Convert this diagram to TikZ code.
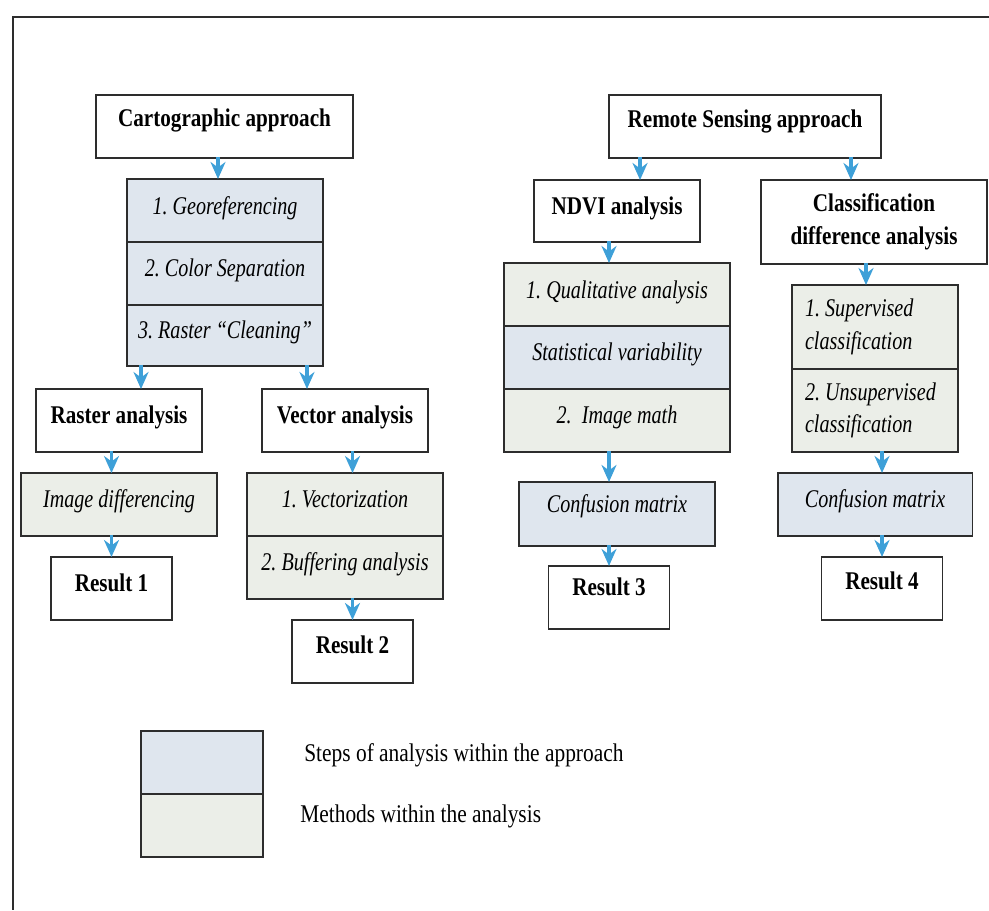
\documentclass[tikz,border=0pt]{standalone}
\usepackage{fontspec}
\setmainfont{Liberation Serif}[FakeStretch=0.84, BoldFeatures={FakeStretch=0.83}, ItalicFeatures={FakeStretch=0.79}]
\usepackage{xcolor}
\usetikzlibrary{arrows.meta,positioning}
\definecolor{stepblue}{RGB}{223,230,238}
\definecolor{methgreen}{RGB}{235,238,232}
\definecolor{edgegray}{RGB}{45,45,45}
\definecolor{arrowblue}{RGB}{62,160,216}
\frenchspacing

\begin{document}
\begin{tikzpicture}[
x=0.02cm, y=-0.02cm,
node distance=0.42cm and 0.42cm,
every node/.style={font=\fontsize{14.5}{18.5}\selectfont},
box/.style={draw=edgegray, line width=1.1pt, align=center, inner sep=0pt, outer sep=0pt, minimum width=3.32cm, minimum height=1.26cm, text height=10pt, text depth=6.5pt, font=\fontsize{14.5}{18.5}\selectfont\bfseries},
twoline/.style={text height={}, text depth={}},
stepcell/.style={box, fill=stepblue, minimum width=3.92cm, font=\fontsize{14.5}{18.5}\selectfont\itshape},
methcell/.style={stepcell, fill=methgreen},
arr/.style={-{Stealth[length=3.4mm, width=3mm, inset=1.1mm]}, line width=2pt, draw=arrowblue, shorten <=-0.5pt}
]
\useasboundingbox (0,0) rectangle (989,910);
% frame
\draw[edgegray, line width=1.3pt] (989,17) -- (13,17) -- (13,910);

% cartographic side
\node[box, minimum width=5.14cm, text depth=10.5pt] (carto) at (224.5,126.5) {Cartographic approach};
\node[stepcell, below=of carto, xshift=0.01cm, text depth=5pt] (georef) {1. Georeferencing};
\node[stepcell, below=0pt of georef] (colsep) {2. Color Separation};
\node[stepcell, below=0pt of colsep, minimum height=1.22cm] (clean) {3. Raster “Cleaning”};
\node[box] (raster) at (119,420.5) {Raster analysis};
\node[box] (vector) at (345,420.5) {Vector analysis};
\node[methcell, below=of raster, text depth=7pt] (imgdiff) {Image differencing};
\node[box, below=of imgdiff, xshift=-0.15cm, minimum width=2.42cm, text depth=6pt] (res1) {Result 1};
\node[methcell, below=of vector, text depth=7pt] (vectz) {1. Vectorization};
\node[methcell, below=0pt of vectz, text depth=7pt] (buffer) {2. Buffering analysis};
\node[box, below=of buffer, xshift=0.15cm, minimum width=2.42cm, text depth=7.5pt] (res2) {Result 2};

% remote sensing side
\node[box, minimum width=5.44cm, text depth=8.5pt] (remote) at (745,126.5) {Remote Sensing approach};
\node[box, minimum height=1.24cm] (ndvi) at (617,211) {NDVI analysis};
\node[box, twoline, minimum width=4.52cm, minimum height=1.68cm] (classdiff) at (874,222) {Classification\\difference analysis};
\node[methcell, minimum width=4.52cm, text depth=5pt] (qual) at (617,294.5) {1. Qualitative analysis};
\node[stepcell, minimum width=4.52cm, below=0pt of qual, text depth=7pt] (statvar) {Statistical variability};
\node[methcell, minimum width=4.52cm, below=0pt of statvar, text depth=7pt] (imgmath) {2.\ \ Image math};
\node[stepcell, below=0.6cm of imgmath, minimum height=1.28cm, text depth=11.5pt] (conf3) {Confusion matrix};
\node[box, below=0.4cm of conf3, xshift=-0.16cm, minimum width=2.42cm, text depth=12pt] (res3) {Result 3};
\node[methcell, twoline, minimum width=3.32cm, minimum height=1.68cm, align=flush left, text width=2.8cm] (superv) at (875,327) {1. Supervised\\classification};
\node[methcell, twoline, minimum width=3.32cm, minimum height=1.66cm, align=flush left, text width=2.8cm, below=0pt of superv] (unsuperv) {2. Unsupervised\\classification};
\node[stepcell, below=of unsuperv, minimum width=3.9cm, text depth=7pt] (conf4) {Confusion matrix};
\node[box, below=of conf4, xshift=0.14cm, minimum width=2.42cm, text depth=8.5pt] (res4) {Result 4};

% legend
\node[stepcell, minimum width=2.44cm] (legstep) at (202,762.5) {};
\node[methcell, minimum width=2.44cm, below=0pt of legstep] (legmeth) {};
\node[anchor=west, inner sep=0pt, right=0.82cm of legstep, yshift=0.15cm] (legsteptxt) {Steps of analysis within the approach};
\node[anchor=west, inner sep=0pt, right=0.74cm of legmeth, yshift=0.18cm] (legmethtxt) {Methods within the analysis};

% connectors
\draw[arr] ([xshift=-0.13cm]carto.south) -- ([xshift=-0.13cm]carto.south |- georef.north);
\draw[arr] ([xshift=0.28cm]clean.south west) coordinate (c1) -- (c1 |- raster.north);
\draw[arr] ([xshift=-0.32cm]clean.south east) coordinate (c2) -- (c2 |- vector.north);
\draw[arr] (raster.south -| res1) -- (imgdiff.north -| res1);
\draw[arr] (imgdiff.south -| res1) -- (res1.north);
\draw[arr] (vector.south -| res2) -- (vectz.north -| res2);
\draw[arr] (buffer.south -| res2) -- (res2.north);
\draw[arr] ([xshift=-2.1cm]remote.south) coordinate (r1) -- (r1 |- ndvi.north);
\draw[arr] ([xshift=2.12cm]remote.south) coordinate (r2) -- (r2 |- classdiff.north);
\draw[arr] (ndvi.south -| res3) -- (qual.north -| res3);
\draw[arr] (imgmath.south -| res3) -- (conf3.north -| res3);
\draw[arr] (conf3.south -| res3) -- (res3.north);
\draw[arr] ([xshift=-0.16cm]classdiff.south) coordinate (r3) -- (r3 |- superv.north);
\draw[arr] (unsuperv.south -| res4) -- (conf4.north -| res4);
\draw[arr] (conf4.south -| res4) -- (res4.north);
\end{tikzpicture}
\end{document}
